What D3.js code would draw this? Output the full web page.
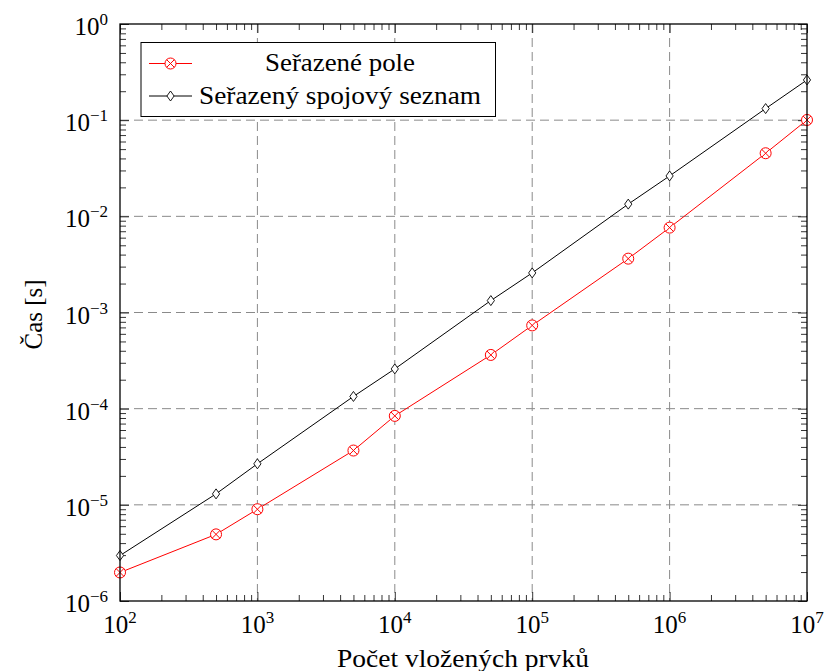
<!DOCTYPE html>
<html>
<head>
<meta charset="utf-8">
<script src="https://cdn.jsdelivr.net/npm/d3@7"></script>
<style>
  html, body { margin: 0; padding: 0; background: #fff; }
  svg { display: block; }
</style>
</head>
<body>
<svg id="chart" width="824" height="671"></svg>
<script>
// ---- data ----
const nValues = [100, 500, 1000, 5000, 10000, 50000, 100000, 500000, 1000000, 5000000, 10000000];
const sortedArray = [1.98e-6, 4.93e-6, 9.0e-6, 3.67e-5, 8.41e-5, 3.62e-4, 7.34e-4, 3.63e-3, 7.63e-3, 4.53e-2, 1.005e-1];
const sortedList  = [2.97e-6, 1.30e-5, 2.67e-5, 1.34e-4, 2.59e-4, 1.33e-3, 2.58e-3, 1.34e-2, 2.63e-2, 1.32e-1, 2.62e-1];
const seriesNames = ["Seřazené pole", "Seřazený spojový seznam"];
const xTickExps = [2, 3, 4, 5, 6, 7];
const yTickExps = [0, -1, -2, -3, -4, -5, -6];
const xLabel = "Počet vložených prvků";
const yLabel = "Čas [s]";

// ---- layout ----
const svg = d3.select("#chart");
const FONT = "'Liberation Serif', 'Times New Roman', 'DejaVu Serif', serif";
const L = 120, R = 807, T = 24, B = 601;
const x = d3.scaleLog().domain([1e2, 1e7]).range([L, R]);
const y = d3.scaleLog().domain([1e-6, 1e0]).range([B, T]);

// grid
const grid = svg.append("g");
xTickExps.slice(1, -1).forEach(e => {
  grid.append("line").attr("x1", x(10 ** e)).attr("x2", x(10 ** e)).attr("y1", T).attr("y2", B)
    .attr("stroke", "#8a8a8a").attr("stroke-width", 1).attr("stroke-dasharray", "9,5");
});
yTickExps.slice(1, -1).forEach(e => {
  grid.append("line").attr("y1", y(10 ** e)).attr("y2", y(10 ** e)).attr("x1", L).attr("x2", R)
    .attr("stroke", "#8a8a8a").attr("stroke-width", 1).attr("stroke-dasharray", "9,5");
});

// ticks (inside, all four sides) via d3 axes
function minorVals(scale) {
  const [a, b] = scale.domain();
  const out = [];
  for (let e = Math.round(Math.log10(a)); e < Math.round(Math.log10(b)); e++)
    for (let m = 2; m <= 9; m++) out.push(m * 10 ** e);
  return out;
}
const majX = xTickExps.map(e => 10 ** e), majY = yTickExps.map(e => 10 ** e);
const tickG = svg.append("g");
function addAxis(axisFn, scale, vals, size, transform) {
  const g = tickG.append("g").attr("transform", transform)
    .call(axisFn(scale).tickValues(vals).tickSize(size).tickFormat(""));
  g.select(".domain").remove();
  g.selectAll(".tick line").attr("stroke", "#000").attr("stroke-width", 0.8);
}
addAxis(d3.axisTop, x, minorVals(x), 6, `translate(0,${B})`);
addAxis(d3.axisTop, x, majX, 9, `translate(0,${B})`);
addAxis(d3.axisBottom, x, minorVals(x), 6, `translate(0,${T})`);
addAxis(d3.axisBottom, x, majX, 9, `translate(0,${T})`);
addAxis(d3.axisRight, y, minorVals(y), 6, `translate(${L},0)`);
addAxis(d3.axisRight, y, majY, 9, `translate(${L},0)`);
addAxis(d3.axisLeft, y, minorVals(y), 6, `translate(${R},0)`);
addAxis(d3.axisLeft, y, majY, 9, `translate(${R},0)`);

// tick labels
const fsMain = 25, fsSup = 17;
function txt(sel) { return sel.append("text").attr("font-family", FONT).attr("fill", "#000"); }
xTickExps.forEach(e => {
  const t = txt(svg).attr("x", x(10 ** e)).attr("y", 633)
    .attr("text-anchor", "middle").attr("font-size", fsMain);
  t.append("tspan").text("10");
  t.append("tspan").attr("font-size", fsSup).attr("dy", -10).text(String(e));
});
yTickExps.forEach(e => {
  const t = txt(svg).attr("x", 108).attr("y", y(10 ** e) + 11)
    .attr("text-anchor", "end").attr("font-size", fsMain);
  t.append("tspan").text("10");
  t.append("tspan").attr("font-size", fsSup).attr("dy", -10).text(e === 0 ? "0" : "\u2212" + (-e));
});

// axis labels
txt(svg).attr("x", 463).attr("y", 667).attr("text-anchor", "middle")
  .attr("font-size", fsMain).attr("textLength", 252).attr("lengthAdjust", "spacingAndGlyphs").text(xLabel);
txt(svg).attr("transform", `translate(42,314.5) rotate(-90)`).attr("text-anchor", "middle")
  .attr("font-size", fsMain).attr("textLength", 70).attr("lengthAdjust", "spacingAndGlyphs").text(yLabel);

// series
const line = d3.line().x(d => x(d[0])).y(d => y(d[1]));
const data1 = nValues.map((n, i) => [n, sortedArray[i]]);
const data2 = nValues.map((n, i) => [n, sortedList[i]]);

function otimes(g, cx, cy) {
  const r = 5.5, k = r * Math.SQRT1_2;
  g.append("circle").attr("cx", cx).attr("cy", cy).attr("r", r)
    .attr("fill", "#fff").attr("stroke", "red").attr("stroke-width", 1);
  g.append("path").attr("d", `M${cx - k},${cy - k}L${cx + k},${cy + k}M${cx - k},${cy + k}L${cx + k},${cy - k}`)
    .attr("stroke", "red").attr("stroke-width", 1);
}
function diamond(g, cx, cy) {
  g.append("path").attr("d", `M${cx},${cy - 5}L${cx + 3.6},${cy}L${cx},${cy + 5}L${cx - 3.6},${cy}Z`)
    .attr("fill", "#fff").attr("stroke", "#000").attr("stroke-width", 0.9);
}

const s2 = svg.append("g");
s2.append("path").datum(data2).attr("d", line).attr("fill", "none").attr("stroke", "#000").attr("stroke-width", 1);
data2.forEach(d => diamond(s2, x(d[0]), y(d[1])));

const s1 = svg.append("g");
s1.append("path").datum(data1).attr("d", line).attr("fill", "none").attr("stroke", "red").attr("stroke-width", 1);
data1.forEach(d => otimes(s1, x(d[0]), y(d[1])));

// frame
svg.append("rect").attr("x", L).attr("y", T).attr("width", R - L).attr("height", B - T)
  .attr("fill", "none").attr("stroke", "#000").attr("stroke-width", 1.3);

// legend
const lg = svg.append("g");
lg.append("rect").attr("x", 141).attr("y", 42.5).attr("width", 354.5).attr("height", 74)
  .attr("fill", "#fff").attr("stroke", "#000").attr("stroke-width", 1);
const rows = [63.5, 96];
lg.append("line").attr("x1", 149).attr("x2", 192).attr("y1", rows[0]).attr("y2", rows[0]).attr("stroke", "red");
otimes(lg, 170.5, rows[0]);
lg.append("line").attr("x1", 149).attr("x2", 192).attr("y1", rows[1]).attr("y2", rows[1]).attr("stroke", "#000");
diamond(lg, 170.5, rows[1]);
txt(lg).attr("x", 340).attr("y", rows[0] + 7.5).attr("text-anchor", "middle")
  .attr("font-size", fsMain).attr("textLength", 150).attr("lengthAdjust", "spacingAndGlyphs").text(seriesNames[0]);
txt(lg).attr("x", 199).attr("y", rows[1] + 7.5).attr("text-anchor", "start")
  .attr("font-size", fsMain).attr("textLength", 282).attr("lengthAdjust", "spacingAndGlyphs").text(seriesNames[1]);
</script>
</body>
</html>
